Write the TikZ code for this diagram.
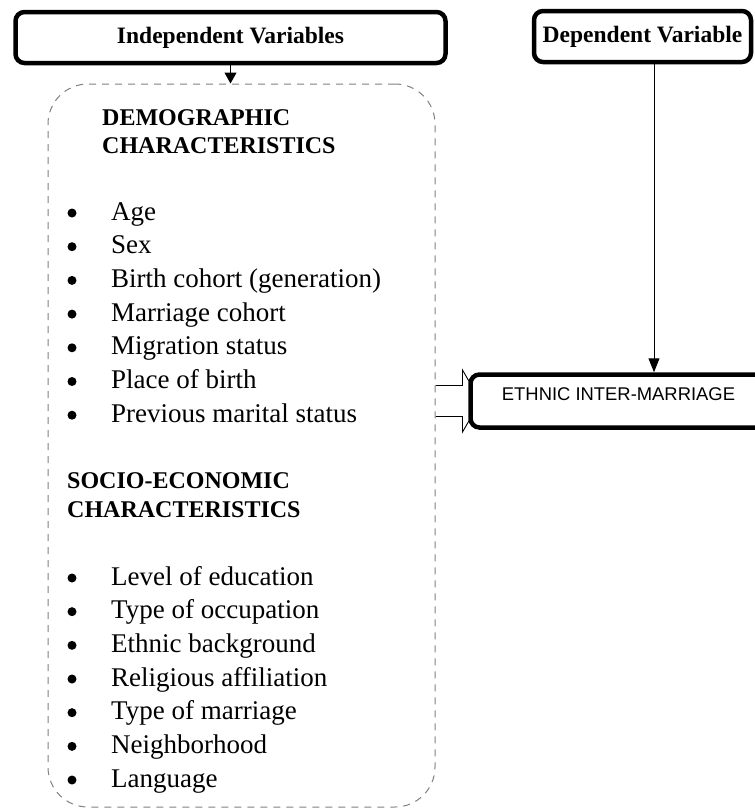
\documentclass[tikz,border=0pt]{standalone}
\usepackage{fontspec}
\setmainfont{Liberation Serif}
\newfontfamily\arialfont{Liberation Sans}
\usetikzlibrary{arrows.meta,backgrounds}

\tikzset{
  varbox/.style={draw, line width=4.5pt, rounded corners=9pt, fill=white,
    font=\bfseries\fontsize{23.5}{28}\selectfont, inner sep=0pt},
  groupbox/.style={draw=gray, line width=1pt, dash pattern=on 7pt off 6pt,
    rounded corners=40pt, inner sep=0pt},
  headtext/.style={anchor=base west, inner sep=0pt,
    font=\bfseries\fontsize{24}{28.5}\selectfont},
  itemtext/.style={anchor=base west, inner sep=0pt,
    font=\fontsize{27}{32}\selectfont},
  blockarrow/.style={draw, line width=0.9pt, fill=white, line join=miter},
}

\begin{document}
\begin{tikzpicture}[x=1pt,y=-1pt]
  \useasboundingbox (0,0) rectangle (755,809);

  % Variable boxes
  \node[varbox, minimum width=430pt, minimum height=51pt] (indep) at (230.5,37.5)
    {Independent Variables};
  \node[varbox, minimum width=217pt, minimum height=51pt] (dep) at (642.5,36.5)
    {Dependent Variable};

  % Dashed group of variables
  \node[groupbox, minimum width=387pt, minimum height=723pt] (vars) at (241.5,445.5) {};

  % Outcome box
  \node[varbox, font=\arialfont\fontsize{18.4}{22}\selectfont, minimum width=296pt,
    text height=25.5pt, text depth=27.5pt, anchor=base] (eth) at (618.5,400)
    {ETHNIC INTER-MARRIAGE};

  % Headings
  \node[headtext] (demohead) at (102,125) {DEMOGRAPHIC};
  \node[headtext] (demohead2) at (102,153) {CHARACTERISTICS};
  \node[headtext] (sociohead) at (67,488) {SOCIO-ECONOMIC};
  \node[headtext] (sociohead2) at (67,517) {CHARACTERISTICS};

  % Demographic items
  \foreach \txt [count=\i] in {Age, Sex, Birth cohort (generation), Marriage cohort,
      Migration status, Place of birth, Previous marital status} {
    \fill (72,220+33.7*\i-33.7-7) circle (4.5pt);
    \node[itemtext] (demo\i) at (111,220+33.7*\i-33.7) {\txt};
  }

  % Socio-economic items
  \foreach \txt [count=\i] in {Level of education, Type of occupation, Ethnic background,
      Religious affiliation, Type of marriage, Neighborhood, Language} {
    \fill (72,585+33.67*\i-33.67-7) circle (4.5pt);
    \node[itemtext] (socio\i) at (111,585+33.67*\i-33.67) {\txt};
  }

  % Arrows
  \draw[line width=1pt, -{Triangle[width=12pt,length=11pt]}]
    (indep.south) -- (indep.south |- vars.north);
  \draw[line width=1pt, -{Triangle[width=11pt,length=14pt]}]
    ([xshift=11.5pt]dep.south) -- ([xshift=11.5pt]dep.south |- eth.north);

  % Block arrow into the outcome
  \begin{scope}[on background layer]
    \coordinate (bstart) at (vars.east |- eth.west);
    \draw[blockarrow] (bstart) ++(0,-15.5) -- ++(27,0) -- ++(0,-15.5)
      -- ++(18,31) -- ++(-18,31) -- ++(0,-15.5) -- ++(-27,0);
  \end{scope}
\end{tikzpicture}
\end{document}
